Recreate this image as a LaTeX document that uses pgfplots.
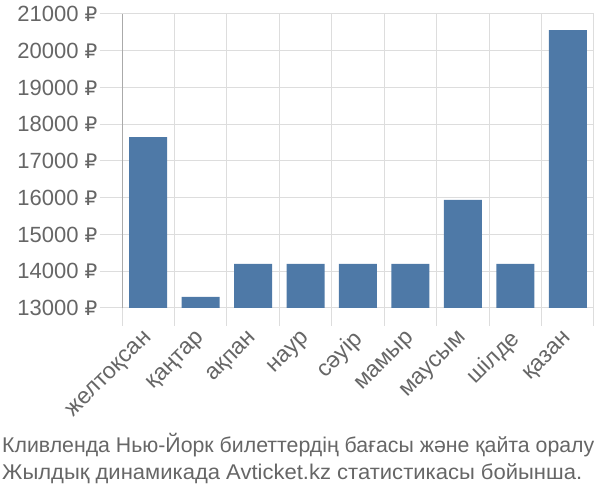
\documentclass[border=0pt]{standalone}
\usepackage{graphicx}
\usepackage{pgfplots}
\pgfplotsset{compat=1.18}
\usepackage{fontspec}
\setmainfont{Liberation Sans}
\newfontfamily\rub{DejaVu Sans}
\definecolor{barblue}{HTML}{4E79A7}
\definecolor{gridgray}{HTML}{DDDDDD}
\definecolor{axisgray}{HTML}{AAAAAA}
\definecolor{textgray}{HTML}{666666}
\begin{document}
\begin{tikzpicture}
\useasboundingbox (0,0) rectangle (600pt,500pt);
\begin{axis}[
  at={(122pt,192pt)}, anchor=south west,
  scale only axis, width=472pt, height=294pt,
  xmin=-0.5, xmax=8.5, ymin=13000, ymax=21000,
  axis y line*=left, axis x line*=bottom,
  y axis line style={draw=axisgray, -},
  x axis line style={draw=none},
  ytick={13000,14000,...,21000},
  scaled y ticks=false,
  yticklabel={\pgfmathprintnumber{\tick} {\rub\fontsize{20}{24}\selectfont ₽}},
  /pgf/number format/.cd, fixed, 1000 sep={}, assume math mode=true,
  /pgfplots/.cd,
  xtick={0,...,8},
  xticklabels={желтоқсан,қаңтар,ақпан,наур,сәуір,мамыр,маусым,шілде,қазан},
  minor xtick={-0.5,0.5,...,8.5},
  xminorgrids, ymajorgrids,
  grid style={draw=gridgray, line width=1pt},
  minor grid style={draw=gridgray, line width=1pt},
  tick align=outside,
  major tick length=22pt, minor tick length=18pt,
  major x tick style={draw=none},
  major y tick style={draw=gridgray, line width=1pt},
  minor x tick style={draw=gridgray, line width=1pt},
  yticklabel style={font=\fontsize{22}{26}\selectfont, text=textgray, xshift=1pt},
  xticklabel style={font=\fontsize{23}{27}\selectfont, text=textgray, rotate=45, anchor=east, yshift=-5pt},
  ybar, bar width=38pt,
]
\addplot[fill=barblue, draw=none] coordinates {
(0,17650) (1,13300) (2,14200) (3,14200) (4,14200) (5,14200) (6,15940) (7,14200) (8,20560)};
\end{axis}
\node[anchor=base west, text=textgray, font=\fontsize{21.3}{25}\selectfont, inner sep=0] at (2pt,47pt) {Кливленда Нью-Йорк билеттердің бағасы және қайта оралу};
\node[anchor=base west, text=textgray, font=\fontsize{21.3}{25}\selectfont, inner sep=0] at (2pt,20pt) {\scalebox{1.034}[1]{Жылдық динамикада Avticket.kz статистикасы бойынша.}};
\end{tikzpicture}
\end{document}
